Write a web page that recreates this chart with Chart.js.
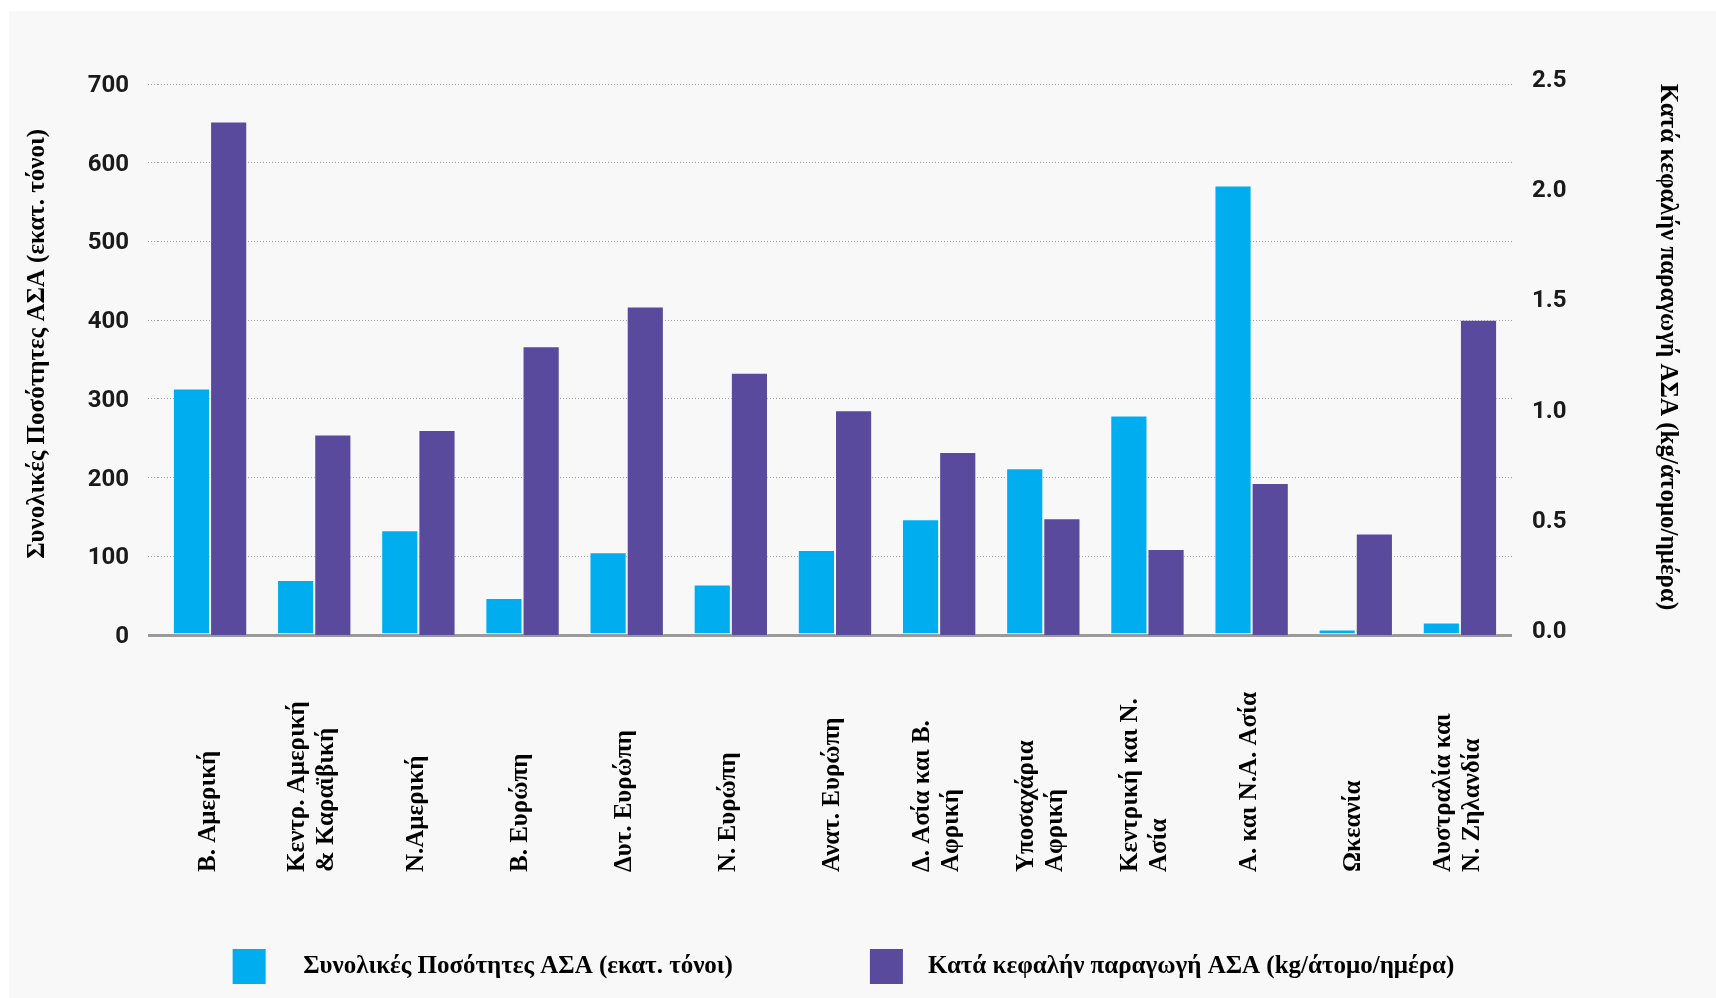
<!DOCTYPE html>
<html lang="el">
<head>
<meta charset="utf-8">
<title>ΑΣΑ ανά περιοχή</title>
<script src="https://cdn.jsdelivr.net/npm/chart.js@4.4.1/dist/chart.umd.min.js"></script>
<style>
  body { margin: 0; background: #ffffff; overflow: hidden; }
  #panel { position: absolute; left: 9px; top: 11px; width: 1707px; height: 987px; background: #f8f8f8; }
  #myCanvas { position: absolute; left: -29px; top: 11px; }
</style>
</head>
<body>
<div id="panel"></div>
<canvas id="myCanvas" width="1745" height="987"></canvas>
<script>
'use strict';

const regionLabels = [
  ['Β. Αμερική'],
  ['Κεντρ. Αμερική', '& Καραϊβική'],
  ['Ν.Αμερική'],
  ['Β. Ευρώπη'],
  ['Δυτ. Ευρώπη'],
  ['Ν. Ευρώπη'],
  ['Ανατ. Ευρώπη'],
  ['Δ. Ασία και Β.', 'Αφρική'],
  ['Υποσαχάρια', 'Αφρική'],
  ['Κεντρική και Ν.', 'Ασία'],
  ['Α. και Ν.Α. Ασία'],
  ['Ωκεανία'],
  ['Αυστραλία και', 'Ν. Ζηλανδία']
];

// εκατ. τόνοι
const totalWaste = [313, 70, 133, 47, 105, 64, 108, 147, 212, 279, 571, 7, 16];
// kg/άτομο/ημέρα
const perCapitaWaste = [2.33, 0.91, 0.93, 1.31, 1.49, 1.19, 1.02, 0.83, 0.53, 0.39, 0.69, 0.46, 1.43];

const leftTicks = [0, 100, 200, 300, 400, 500, 600, 700];
const rightTicks = [0, 0.5, 1, 1.5, 2, 2.5];

const totalLabel = 'Συνολικές Ποσότητες ΑΣΑ (εκατ. τόνοι)';
const perCapitaLabel = 'Κατά κεφαλήν παραγωγή ΑΣΑ (kg/άτομο/ημέρα)';
// extra room between legend box and text, as in the original
const legendGaps = ['    ', '  '];

const serifFont = 'Liberation Serif';
const serifBold = { family: serifFont, size: 25, weight: 'bold' };
const tickFont = { family: 'Roboto', size: 24, weight: 'bold' };

const isZero = ctx => ctx.tick && ctx.tick.value === 0;

// category names sit low under the axis, aligned at their start
const regionLabelPlugin = {
  id: 'regionLabels',
  afterDraw(chart) {
    const ctx = chart.ctx;
    const xScale = chart.scales.x;
    const baseY = 861;
    const lineGap = 29;
    ctx.save();
    ctx.font = 'bold 25px "' + serifFont + '"';
    ctx.fillStyle = '#000000';
    ctx.textAlign = 'left';
    ctx.textBaseline = 'middle';
    for (let i = 0; i < regionLabels.length; i++) {
      let lines = regionLabels[i];
      let x = xScale.getPixelForValue(i) - 2;
      ctx.save();
      ctx.translate(x, baseY);
      ctx.rotate(-Math.PI / 2);
      for (let j = 0; j < lines.length; j++) {
        ctx.fillText(lines[j], 0, (j - (lines.length - 1) / 2) * lineGap);
      }
      ctx.restore();
    }
    ctx.restore();
  }
};

function renderChart() {
  const data = {
    labels: regionLabels.map(l => l.join(' ')),
    datasets: [{
      label: totalLabel,
      data: totalWaste,
      yAxisID: 'y',
      backgroundColor: '#00aeef',
      borderColor: 'rgba(255, 255, 255, 0.35)',
      borderWidth: 1
    },
    {
      label: perCapitaLabel,
      data: perCapitaWaste,
      yAxisID: 'y1',
      backgroundColor: '#594a9e',
      borderColor: 'rgba(255, 255, 255, 0.35)',
      borderWidth: 1
    }]
  };

  const config = {
    type: 'bar',
    data: data,
    plugins: [regionLabelPlugin],
    options: {
      responsive: false,
      animation: false,
      datasets: {
        bar: { categoryPercentage: 0.714, barPercentage: 1.0 }
      },
      layout: {
        padding: { top: 73, bottom: 4, left: 0, right: 0 }
      },
      plugins: {
        tooltip: { enabled: false },
        legend: {
          position: 'bottom',
          labels: {
            boxWidth: 33,
            boxHeight: 35,
            padding: 137,
            color: '#000000',
            font: serifBold,
            generateLabels(chart) {
              const items = Chart.defaults.plugins.legend.labels.generateLabels(chart);
              items.forEach((item, i) => {
                item.text = legendGaps[i] + item.text;
                item.lineWidth = 0;
              });
              return items;
            }
          }
        }
      },
      scales: {
        x: {
          grid: { display: false },
          border: { display: false },
          ticks: { display: false },
          afterFit(scale) { scale.height = 177; }
        },
        y: {
          position: 'left',
          min: 0,
          max: 700,
          afterBuildTicks(scale) { scale.ticks = leftTicks.map(v => ({ value: v })); },
          ticks: { color: '#1a1a1a', font: tickFont, padding: 19, labelOffset: 2 },
          grid: {
            color: ctx => isZero(ctx) ? '#9a9a9a' : '#a0a0a0',
            lineWidth: ctx => isZero(ctx) ? 3 : 1,
            drawTicks: true,
            tickLength: 10,
            tickColor: ctx => isZero(ctx) ? '#9a9a9a' : '#a0a0a0',
            tickWidth: ctx => isZero(ctx) ? 3 : 1,
            tickBorderDash: ctx => isZero(ctx) ? [] : [1, 2]
          },
          border: { display: false, dash: ctx => isZero(ctx) ? [] : [1, 2] },
          title: {
            display: true,
            // leading spaces nudge the title up like the original
            text: '     ' + totalLabel,
            color: '#000000',
            font: serifBold,
            padding: { top: 52, bottom: 0 }
          },
          afterFit(scale) { scale.width = 187; }
        },
        y1: {
          position: 'right',
          min: 0,
          max: 2.5,
          afterBuildTicks(scale) { scale.ticks = rightTicks.map(v => ({ value: v })); },
          ticks: {
            color: '#1a1a1a',
            font: tickFont,
            padding: 20,
            labelOffset: -3,
            callback: v => Number(v).toFixed(1)
          },
          grid: { display: false, drawTicks: false },
          border: { display: false },
          title: {
            display: true,
            text: perCapitaLabel + '    ',
            color: '#000000',
            font: serifBold,
            padding: { top: 34, bottom: 0 }
          },
          afterFit(scale) { scale.width = 204; }
        }
      }
    }
  };

  const chart = document.getElementById('myCanvas');
  const myChart = new Chart(chart, config);
}

renderChart();
</script>
</body>
</html>
